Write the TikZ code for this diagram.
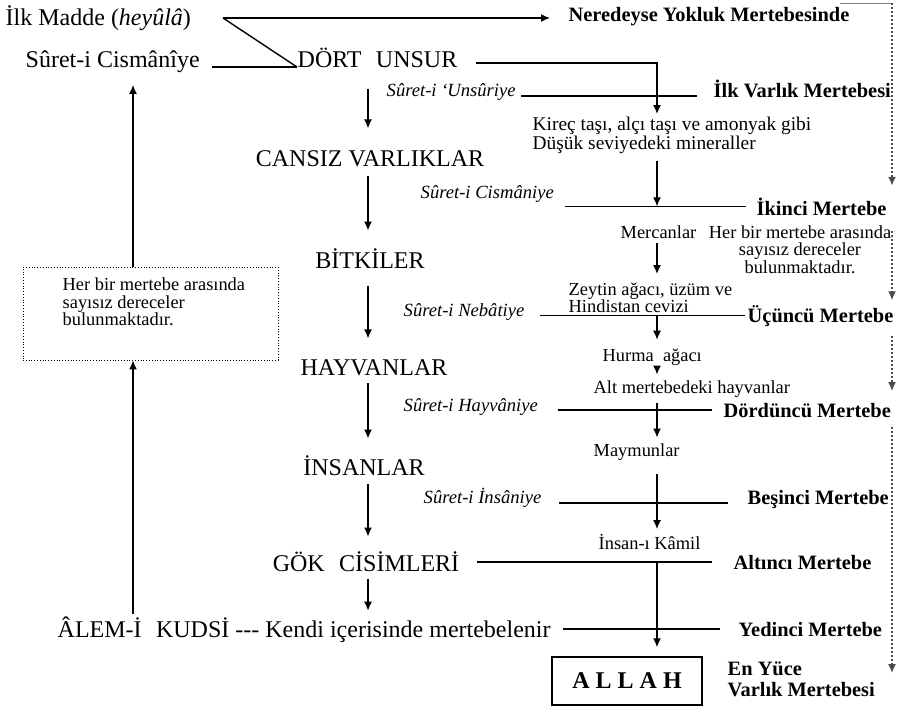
\documentclass[tikz,border=0pt]{standalone}
\usepackage{fontspec}
\setmainfont{Liberation Serif}
\usetikzlibrary{positioning,calc,arrows.meta}

\begin{document}
\begin{tikzpicture}[
    x=0.5pt, y=-0.5pt,
    every node/.style={inner sep=0},
    >={Latex[length=4.5pt,width=4pt]},
    line width=0.7pt,
    maintext/.style={font=\fontsize{12}{14}\selectfont},
    smalltext/.style={font=\fontsize{9.2}{8.6}\selectfont, align=left},
    surettext/.style={font=\fontsize{9.3}{11}\selectfont\itshape},
    merttext/.style={font=\fontsize{10.2}{10.5}\selectfont\bfseries},
    dotline/.style={black!70, densely dotted, line width=1pt}
]
\useasboundingbox (0,0) rectangle (908,707);

\node[maintext, anchor=base west] (ilk) at (5,25) {İlk Madde (\textit{heyûlâ})};
\node[merttext, anchor=base west] (neredeyse) at (568,21) {Neredeyse Yokluk Mertebesinde};
\node[maintext, anchor=base west] (cism) at (25,67) {Sûret-i Cismânîye};
\node[maintext, anchor=base west] (dort) at (297,67) {DÖRT\hspace{0.6em}UNSUR};
\node[maintext, anchor=base] (cansiz) at (370,166) {CANSIZ VARLIKLAR};
\node[maintext, anchor=base] (bitki) at (370,268) {BİTKİLER};
\node[maintext, anchor=base] (hayvan) at (374,375) {HAYVANLAR};
\node[maintext, anchor=base] (insan) at (364,475) {İNSANLAR};
\node[maintext, anchor=base] (gok) at (366,571) {GÖK\hspace{0.6em}CİSİMLERİ};
\node[maintext, anchor=base west] (alem) at (57,637) {ÂLEM-İ\hspace{0.6em}KUDSİ {-}{-}{-} Kendi içerisinde mertebelenir};

\node[surettext, anchor=base west] (unsuriye) at (386,96) {Sûret-i ‘Unsûriye};
\node[surettext, anchor=base west] (cismaniye) at (420,198) {Sûret-i Cismâniye};
\node[surettext, anchor=base west] (nebat) at (403,316) {Sûret-i Nebâtiye};
\node[surettext, anchor=base west] (hayvaniye) at (403,411) {Sûret-i Hayvâniye};
\node[surettext, anchor=base west] (insaniye) at (423,503) {Sûret-i İnsâniye};

\node[merttext, anchor=base west] (ilkvar) at (713,97) {İlk Varlık Mertebesi};
\node[merttext, anchor=base west] (ikinci) at (756,215) {İkinci Mertebe};
\node[merttext, anchor=base west] (ucuncu) at (747,322) {Üçüncü Mertebe};
\node[merttext, anchor=base west] (dorduncu) at (723,417) {Dördüncü Mertebe};
\node[merttext, anchor=base west] (besinci) at (747,504) {Beşinci Mertebe};
\node[merttext, anchor=base west] (altinci) at (733,569) {Altıncı Mertebe};
\node[merttext, anchor=base west] (yedinci) at (738,636) {Yedinci Mertebe};
\node[merttext, anchor=north west, align=left] (enyuce) at (727,661) {En Yüce\\Varlık Mertebesi};

\node[smalltext, anchor=north west, font=\fontsize{9.7}{8.6}\selectfont] (kirec) at (532,116) {Kireç taşı, alçı taşı ve amonyak gibi\\Düşük seviyedeki mineraller};
\node[smalltext, anchor=base west] (mercan) at (620,238) {Mercanlar};
\node[smalltext, anchor=north, align=center, font=\fontsize{9.2}{8.3}\selectfont] (herbirR) at (800,225) {Her bir mertebe arasında\\sayısız dereceler\\bulunmaktadır.};
\node[smalltext, anchor=north west] (zeytin) at (568,282) {Zeytin ağacı, üzüm ve\\Hindistan cevizi};
\node[smalltext, anchor=base west] (hurma) at (602,361) {Hurma\ \ ağacı};
\node[smalltext, anchor=base west] (altmert) at (593,393) {Alt mertebedeki hayvanlar};
\node[smalltext, anchor=base west] (maymun) at (593,456) {Maymunlar};
\node[smalltext, anchor=base west] (kamil) at (598,549) {İnsan-ı Kâmil};

\node[draw, thin, densely dotted, minimum width=127.5pt, minimum height=46.5pt] (herbirL) at (150.5,313.5) {};
\node[smalltext, anchor=north west, font=\fontsize{9.2}{8.8}\selectfont] (herbirLtxt) at (62,277) {Her bir mertebe arasında\\sayısız dereceler\\bulunmaktadır.};

\node[draw, minimum width=75pt, minimum height=24pt, font=\fontsize{12}{14}\selectfont\bfseries] (allah) at (627,681) {A L L A H};

\coordinate (split) at (223,18);
\coordinate (spine) at (657,0);
\coordinate (lcol) at (368,0);
\coordinate (lup) at (133,0);
\coordinate (dotx) at (892,0);
\coordinate (dtop) at (840,3);

\draw[->, shorten >=9pt] (split) -- (split -| neredeyse.west);
\draw (split) -- (dort.base west);
\draw[shorten <=6pt] (cism.base east) -- (dort.base west);
\draw[->, shorten <=9pt, shorten >=1pt] ([yshift=2pt]dort.base east) -| (spine |- kirec.north);
\draw[shorten <=2.5pt, shorten >=8pt] (unsuriye.base east) -- (unsuriye.base east -| ilkvar.west);

\draw[->, shorten <=3pt] (spine |- kirec.south) -- (spine |- ikinci.west);
\draw[shorten <=5pt, shorten >=5pt] (cismaniye.east |- ikinci.west) -- (ikinci.west);
\draw[->, shorten <=2pt, shorten >=4pt] (spine |- mercan.south) -- (spine |- zeytin.north);
\draw[shorten <=7.5pt, shorten >=1pt] (nebat.east |- ucuncu.west) -- (ucuncu.west);
\draw[->, shorten >=4pt] (spine |- ucuncu.west) -- (spine |- hurma.north);
\draw[->, shorten >=2.5pt] (spine |- hurma.south) -- (spine |- altmert.north);
\draw[->, shorten <=2.5pt, shorten >=2.5pt] (spine |- altmert.south) -- (spine |- maymun.north);
\draw[shorten <=9.5pt, shorten >=5.5pt] (hayvaniye.east |- dorduncu.west) -- (dorduncu.west);
\draw[->, shorten <=6.5pt, shorten >=2pt] (spine |- maymun.south) -- (spine |- kamil.north);
\draw[shorten <=8.5pt, shorten >=9.5pt] (insaniye.base east) -- (insaniye.base east -| besinci.west);
\draw[shorten <=8.5pt, shorten >=10.5pt] (gok.east |- altinci.west) -- (altinci.west);
\draw[->, shorten >=4.5pt] (spine |- altinci.west) -- (spine |- allah.north);
\draw[shorten <=6pt, shorten >=9pt] (alem.east |- yedinci.west) -- (yedinci.west);

\draw[->, shorten <=10.5pt, shorten >=10.5pt] (lcol |- dort.south) -- (lcol |- cansiz.north);
\draw[->, shorten <=4.5pt, shorten >=8.5pt] (lcol |- cansiz.south) -- (lcol |- bitki.north);
\draw[->, shorten <=8.5pt, shorten >=10pt] (lcol |- bitki.south) -- (lcol |- hayvan.north);
\draw[->, shorten <=3.5pt, shorten >=8pt] (lcol |- hayvan.south) -- (lcol |- insan.north);
\draw[->, shorten <=4pt, shorten >=7pt] (lcol |- insan.south) -- (lcol |- gok.north);
\draw[->, shorten <=3.5pt, shorten >=2.5pt] (lcol |- gok.south) -- (lcol |- alem.north);

\draw[->, shorten <=1pt] (lup |- alem.north) -- (lup |- herbirL.south);
\draw[->, shorten >=6pt] (lup |- herbirL.north) -- (lup |- cism.south);

\draw[black!50, thin] (dtop) -- (dtop -| dotx);
\draw[dotline, ->, shorten >=5.5pt] (dtop -| dotx) -- (dotx |- ikinci.north);
\draw[dotline, ->, shorten <=3pt, shorten >=2pt] (dotx |- herbirR.north) -- (dotx |- ucuncu.north);
\draw[dotline, ->, shorten <=4.5pt, shorten >=5.5pt] (dotx |- ucuncu.south) -- (dotx |- dorduncu.north);
\draw[dotline, ->, shorten <=4.5pt, shorten >=3pt] (dotx |- dorduncu.south) -- (dotx |- enyuce.west);
\end{tikzpicture}
\end{document}
